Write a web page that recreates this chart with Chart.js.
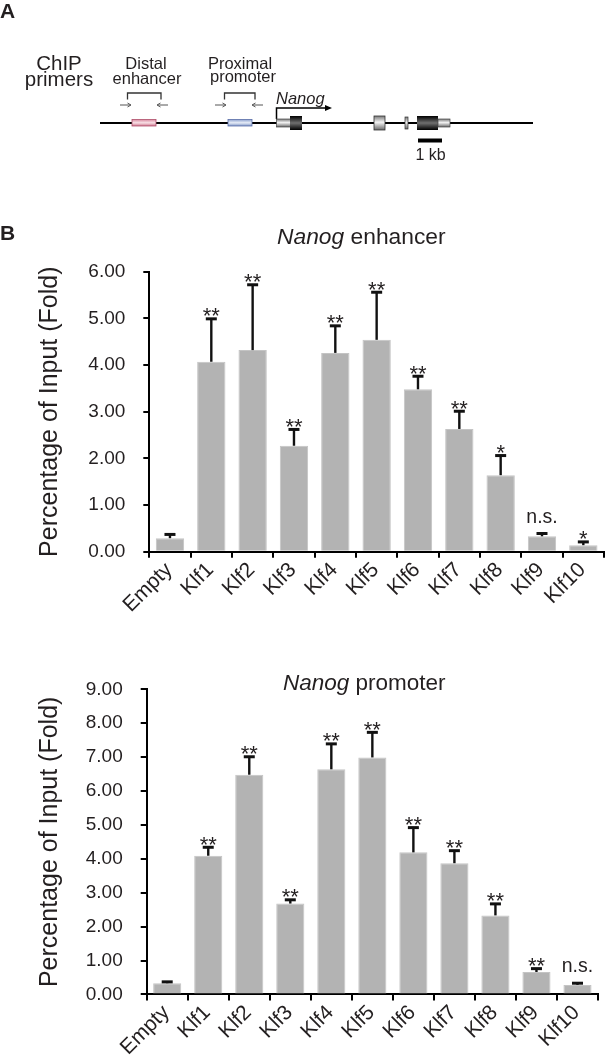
<!DOCTYPE html>
<html><head><meta charset="utf-8">
<script src="https://cdn.jsdelivr.net/npm/chart.js@4/dist/chart.umd.min.js"></script>
<style>
html,body{margin:0;padding:0;background:#fff;}
#wrap{position:relative;width:605px;height:1058px;overflow:hidden;background:#fff;}
canvas{position:absolute;left:0;}
svg{position:absolute;left:0;top:0;pointer-events:none;}
</style></head><body>
<div id="wrap">
<canvas id="c1" width="605" height="420" style="top:220px"></canvas>
<canvas id="c2" width="605" height="418" style="top:640px"></canvas>
<svg width="605" height="1058" viewBox="0 0 605 1058" font-family="'Liberation Sans', Arial, sans-serif" fill="#231f20">
<defs>
 <linearGradient id="gGray" x1="0" y1="0" x2="0" y2="1">
  <stop offset="0" stop-color="#7a7a7a"/><stop offset="0.45" stop-color="#f2f2f2"/><stop offset="1" stop-color="#6a6a6a"/>
 </linearGradient>
 <linearGradient id="gBlack" x1="0" y1="0" x2="0" y2="1">
  <stop offset="0" stop-color="#000"/><stop offset="0.5" stop-color="#707070"/><stop offset="1" stop-color="#000"/>
 </linearGradient>
 <linearGradient id="gPink" x1="0" y1="0" x2="0" y2="1">
  <stop offset="0" stop-color="#d98aa0"/><stop offset="0.5" stop-color="#f8e0e6"/><stop offset="1" stop-color="#d07890"/>
 </linearGradient>
 <linearGradient id="gBlue" x1="0" y1="0" x2="0" y2="1">
  <stop offset="0" stop-color="#8ea2cf"/><stop offset="0.5" stop-color="#e6ecf7"/><stop offset="1" stop-color="#8197c8"/>
 </linearGradient>
</defs>
<!-- Panel A -->
<text x="0" y="18" font-size="21" font-weight="bold">A</text>
<text x="59" y="70" font-size="20.5" text-anchor="middle">ChIP</text>
<text x="59" y="86" font-size="20.5" text-anchor="middle">primers</text>
<text x="146" y="69" font-size="16.5" text-anchor="middle">Distal</text>
<text x="147" y="84" font-size="16.5" text-anchor="middle">enhancer</text>
<text x="240" y="69" font-size="16.5" text-anchor="middle">Proximal</text>
<text x="243" y="82" font-size="16.5" text-anchor="middle">promoter</text>
<polyline points="127.5,99.5 127.5,93 161,93 161,99.5" fill="none" stroke="#333" stroke-width="1.3"/>
<polyline points="224.5,99.5 224.5,93 255,93 255,99.5" fill="none" stroke="#333" stroke-width="1.3"/>
<path d="M120 105 H130.5 M127.5 103 L131 105 L127.5 107 M168 105 H157.5 M160.5 103 L157 105 L160.5 107" stroke="#555" fill="none" stroke-width="1"/>
<path d="M215 105 H225.5 M222.5 103 L226 105 L222.5 107 M263 105 H252.5 M255.5 103 L252 105 L255.5 107" stroke="#555" fill="none" stroke-width="1"/>
<line x1="100" y1="123" x2="533" y2="123" stroke="#000" stroke-width="2"/>
<rect x="132" y="119.5" width="24" height="6.5" fill="url(#gPink)" stroke="#b0506c" stroke-width="0.8"/>
<rect x="228" y="119.5" width="24" height="6.5" fill="url(#gBlue)" stroke="#5a6ea8" stroke-width="0.8"/>
<text x="276" y="104" font-size="16.5" font-style="italic">Nanog</text>
<path d="M276.5 119 V108 H326" fill="none" stroke="#000" stroke-width="1.5"/>
<path d="M325 105 L332 108 L325 111 Z" fill="#000"/>
<rect x="276.5" y="119" width="14" height="8" fill="url(#gGray)" stroke="#444" stroke-width="0.7"/>
<rect x="290" y="116" width="12" height="14" fill="url(#gBlack)"/>
<rect x="374" y="116" width="11" height="14" fill="url(#gGray)" stroke="#333" stroke-width="0.8"/>
<rect x="405" y="117" width="3" height="12" fill="url(#gGray)" stroke="#333" stroke-width="0.7"/>
<rect x="417" y="116" width="21" height="14" fill="url(#gBlack)"/>
<rect x="438" y="119" width="12" height="8" fill="url(#gGray)" stroke="#444" stroke-width="0.7"/>
<rect x="418" y="138.5" width="24" height="4" fill="#000"/>
<text x="430.5" y="160" font-size="16" text-anchor="middle">1 kb</text>
<!-- Panel B -->
<text x="0" y="240" font-size="21" font-weight="bold">B</text>
<text x="277" y="244" font-size="22.8"><tspan font-style="italic">Nanog</tspan> enhancer</text>
<text x="283" y="690" font-size="22.5"><tspan font-style="italic">Nanog</tspan> promoter</text>
</svg>
</div>
<script>
const categories = ['Empty','Klf1','Klf2','Klf3','Klf4','Klf5','Klf6','Klf7','Klf8','Klf9','Klf10'];
const enhancerMean = [0.29, 4.07, 4.32, 2.27, 4.26, 4.54, 3.48, 2.63, 1.64, 0.33, 0.14];
const enhancerSd   = [0.08, 0.92, 1.40, 0.35, 0.58, 1.02, 0.28, 0.38, 0.42, 0.06, 0.07];
const enhancerSig  = ['', '**', '**', '**', '**', '**', '**', '**', '*', 'n.s.', '*'];
const promoterMean = [0.33, 4.09, 6.48, 2.68, 6.64, 6.99, 4.19, 3.87, 2.33, 0.66, 0.28];
const promoterSd   = [0.04, 0.25, 0.53, 0.11, 0.75, 0.74, 0.73, 0.37, 0.34, 0.10, 0.05];
const promoterSig  = ['', '**', '**', '**', '**', '**', '**', '**', '**', '**', 'n.s.'];
const enhancerTicks = {min: 0, max: 6, step: 1};
const promoterTicks = {min: 0, max: 9, step: 1};
const yTitle = 'Percentage of Input (Fold)';

const FAM = "'Liberation Sans', Arial, sans-serif";
Chart.defaults.font.family = FAM;
Chart.defaults.color = '#231f20';

const errPlugin = {
  id: 'errBars',
  afterDatasetsDraw(chart, args, opts) {
    const ctx = chart.ctx, y = chart.scales.y;
    const meta = chart.getDatasetMeta(0);
    const means = chart.data.datasets[0].data;
    ctx.save();
    meta.data.forEach((bar, i) => {
      const top = y.getPixelForValue(means[i] + opts.sd[i]);
      const x = bar.x;
      ctx.strokeStyle = '#111';
      ctx.lineWidth = 2.4;
      ctx.beginPath(); ctx.moveTo(x, bar.y); ctx.lineTo(x, top); ctx.stroke();
      ctx.lineWidth = 3;
      ctx.beginPath(); ctx.moveTo(x - 5.5, top); ctx.lineTo(x + 5.5, top); ctx.stroke();
      const s = opts.sig[i];
      if (s) {
        ctx.fillStyle = '#231f20';
        ctx.textAlign = 'center';
        ctx.textBaseline = 'alphabetic';
        if (s.indexOf('*') >= 0) {
          ctx.font = '22px ' + FAM;
          ctx.fillText(s, x, top + 4.5);
        } else {
          ctx.font = '19.5px ' + FAM;
          ctx.fillText(s, x, top - 11);
        }
      }
    });
    ctx.restore();
  }
};

function makeChart(id, means, sd, sig, tk, padTop, padRight, yWidth, xHeight) {
  return new Chart(document.getElementById(id), {
    type: 'bar',
    data: {
      labels: categories,
      datasets: [{
        data: means,
        backgroundColor: '#b3b3b3',
        borderColor: '#c4c4c4',
        borderWidth: 1,
        barPercentage: 0.685,
        categoryPercentage: 1
      }]
    },
    options: {
      responsive: false,
      animation: false,
      devicePixelRatio: 1,
      layout: {padding: {top: padTop, right: padRight, left: 0, bottom: 0}},
      plugins: {
        legend: {display: false},
        tooltip: {enabled: false},
        errBars: {sd: sd, sig: sig}
      },
      scales: {
        x: {
          offset: true,
          grid: {offset: true, drawOnChartArea: false, drawTicks: true, tickLength: 6, color: '#000', lineWidth: 2},
          border: {display: true, color: '#000', width: 2},
          ticks: {autoSkip: false, maxRotation: 45, minRotation: 45, font: {size: 21}, color: '#231f20', padding: 0, labelOffset: -1},
          afterFit: s => { s.height = xHeight; }
        },
        y: {
          min: tk.min, max: tk.max,
          ticks: {stepSize: tk.step, callback: v => Number(v).toFixed(2), font: {size: 19}, color: '#231f20', padding: 18},
          grid: {drawOnChartArea: false, drawTicks: true, tickLength: 6, color: '#000', lineWidth: 2},
          border: {display: true, color: '#000', width: 2},
          title: {display: true, text: yTitle, font: {size: 25}, color: '#231f20', padding: {top: 35, bottom: 0}},
          afterFit: s => { s.width = yWidth; }
        }
      }
    },
    plugins: [errPlugin]
  });
}

makeChart('c1', enhancerMean, enhancerSd, enhancerSig, enhancerTicks, 51.7, 1, 149.3, 420 - 51.7 - 280);
makeChart('c2', promoterMean, promoterSd, promoterSig, promoterTicks, 49.3, 7, 146.7, 418 - 49.3 - 305.1);
</script>
</body></html>
